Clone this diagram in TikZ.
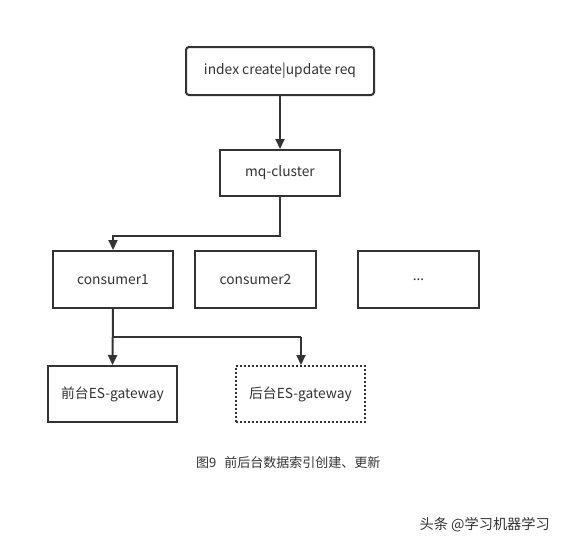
\documentclass[tikz,border=0pt]{standalone}
\usepackage{fontspec}
\setmainfont{Noto Sans CJK SC}
\newfontfamily\cjk{Noto Sans CJK SC}
\usetikzlibrary{arrows.meta}
\definecolor{ln}{HTML}{333333}
\definecolor{tx}{HTML}{333333}
\begin{document}
\begin{tikzpicture}[x=1pt,y=-1pt,
  box/.style={draw=ln,line width=2pt,text=tx,font=\fontsize{13.8}{16}\selectfont,inner sep=0pt},
  conn/.style={draw=ln,line width=2pt,-{Triangle[length=10pt,width=9pt]}},
  plain/.style={draw=ln,line width=2pt}]
\useasboundingbox[fill=white] (0,0) rectangle (564,547);
\node[box,rounded corners=3pt,minimum width=188pt,minimum height=48pt] (req) at (280,71) {\raisebox{-1.5pt}{index create|update req}};
\node[box,minimum width=120pt,minimum height=46pt] (mq) at (280,173) {\raisebox{-1.5pt}{mq-cluster}};
\node[box,minimum width=120pt,minimum height=57pt] (c1) at (113,279.5) {\raisebox{-1.5pt}{consumer1}};
\node[box,minimum width=121pt,minimum height=57pt] (c2) at (255.5,279.5) {\raisebox{-1.5pt}{consumer2}};
\node[box,minimum width=121pt,minimum height=57pt] (c3) at (418.5,279.5) {\raisebox{-1.5pt}{...}};
\node[box,minimum width=129pt,minimum height=56pt] (g1) at (112.5,394) {\raisebox{-1.5pt}{前台ES-gateway}};
\node[box,dotted,minimum width=129pt,minimum height=56pt] (g2) at (300.5,394) {\raisebox{-1.5pt}{后台ES-gateway}};
\coordinate (m1) at (280,236);
\coordinate (m2) at (113,236);
\coordinate (b1) at (113,337);
\coordinate (b2) at (301,337);
\draw[conn] (req.south) -- (mq.north);
\draw[conn] (mq.south) -- (m1) -- (m2) -- (c1.north);
\draw[conn] (c1.south) -- (g1.north);
\draw[plain] (b1) -- (b2);
\draw[conn] (b2) -- (g2.north -| b2);
\node[text=tx,font=\fontsize{13}{15}\selectfont,anchor=west,inner sep=0pt] (cap) at (196,463) {图9\hspace{8pt}前后台数据索引创建、更新};
\node[text=tx,font=\fontsize{14.2}{16}\selectfont,anchor=east,inner sep=0pt] (wm) at (550,525) {头条 @学习机器学习};
\end{tikzpicture}
\end{document}
